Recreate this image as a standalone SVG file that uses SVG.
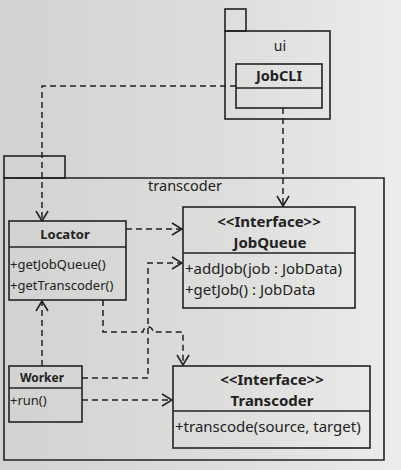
<svg xmlns="http://www.w3.org/2000/svg" width="401" height="470" viewBox="0 0 401 470">
<defs>
<linearGradient id="bg" x1="0" y1="0" x2="1" y2="0">
<stop offset="0" stop-color="#d2d2d0"/>
<stop offset="0.6" stop-color="#dededc"/>
<stop offset="1" stop-color="#ececea"/>
</linearGradient>
<marker id="open" viewBox="0 0 12 14" refX="11" refY="7" markerWidth="12" markerHeight="14" markerUnits="userSpaceOnUse" orient="auto">
<path d="M1,1 L11,7 L1,13" fill="none" stroke="#222" stroke-width="1.6"/>
</marker>
<style>
.box{fill:none;stroke:#222;stroke-width:1.6}
.ln{stroke:#222;stroke-width:1.4}
.t{font-family:"Noto Sans","Open Sans",sans-serif;font-size:13px;fill:#222}
.r{font-size:15px}
.b{font-weight:bold;text-anchor:middle}
.c{text-anchor:middle}
.dash{fill:none;stroke:#222;stroke-width:1.5;stroke-dasharray:6,4}
</style>
</defs>
<rect width="401" height="470" fill="url(#bg)"/>
<g id="pkg-ui">
<rect class="box" x="225" y="9" width="21" height="22"/>
<rect class="box" x="225" y="31" width="105" height="88"/>
<text class="t c" x="280" y="51" style="font-size:14px">ui</text>
</g>
<g id="pkg-transcoder">
<rect class="box" x="4" y="156" width="61" height="22"/>
<path class="box" d="M4,178 H384 V460 H4 Z"/>
<text class="t c" x="185" y="191" style="font-size:14.5px">transcoder</text>
</g>
<g id="JobCLI">
<rect class="box" x="236" y="64" width="86" height="44"/>
<line class="ln" x1="236" y1="88" x2="322" y2="88"/>
<text class="t b" x="279" y="81" style="font-size:14.5px">JobCLI</text>
</g>
<g id="Locator">
<rect class="box" x="9" y="221" width="117" height="79"/>
<line class="ln" x1="9" y1="247" x2="126" y2="247"/>
<text class="t b" x="65" y="239">Locator</text>
<text class="t" x="10" y="269">+getJobQueue()</text>
<text class="t" x="10" y="290">+getTranscoder()</text>
</g>
<g id="JobQueue">
<rect class="box" x="183" y="207" width="172" height="101"/>
<line class="ln" x1="183" y1="253" x2="355" y2="253"/>
<text class="t r b" x="269" y="227">&lt;&lt;Interface&gt;&gt;</text>
<text class="t r b" x="270" y="248">JobQueue</text>
<text class="t r" x="185" y="274">+addJob(job : JobData)</text>
<text class="t r" x="185" y="295">+getJob() : JobData</text>
</g>
<g id="Worker">
<rect class="box" x="9" y="366" width="73" height="56"/>
<line class="ln" x1="9" y1="388" x2="82" y2="388"/>
<text class="t b" x="42" y="382" style="font-size:12px">Worker</text>
<text class="t" x="10" y="405">+run()</text>
</g>
<g id="Transcoder">
<rect class="box" x="173" y="366" width="197" height="82"/>
<line class="ln" x1="173" y1="411" x2="370" y2="411"/>
<text class="t r b" x="272" y="385">&lt;&lt;Interface&gt;&gt;</text>
<text class="t r b" x="272" y="406">Transcoder</text>
<text class="t r" x="175" y="432">+transcode(source, target)</text>
</g>
<g id="connectors">
<path class="dash" d="M236,86 H42 V221" marker-end="url(#open)"/>
<path class="dash" d="M283,108 V206" marker-end="url(#open)"/>
<path class="dash" d="M126,229 H182" marker-end="url(#open)"/>
<path class="dash" d="M82,378 H148 V263 H182" marker-end="url(#open)"/>
<path class="dash" d="M103,300 V332 H143 A5,5 0 0 1 153,332 H183 V365" marker-end="url(#open)"/>
<path class="dash" d="M82,400 H172" marker-end="url(#open)"/>
<path class="dash" d="M42,366 V301" marker-end="url(#open)"/>
</g>
</svg>
